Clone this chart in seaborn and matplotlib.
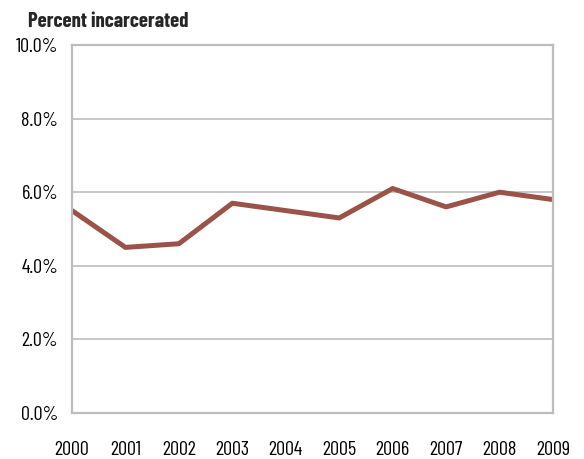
import matplotlib

matplotlib.use("Agg")
import matplotlib.pyplot as plt
import pandas as pd
import seaborn as sns
from matplotlib.ticker import FuncFormatter

years = [2000, 2001, 2002, 2003, 2004, 2005, 2006, 2007, 2008, 2009]
pct_incarcerated = [5.5, 4.5, 4.6, 5.7, 5.5, 5.3, 6.1, 5.6, 6.0, 5.8]
y_ticks = [0, 2, 4, 6, 8, 10]

sns.set_theme(style="white")
plt.rcParams["font.family"] = ["Barlow Condensed", "Archivo Narrow", "DejaVu Sans"]

df = pd.DataFrame({"year": years, "pct": pct_incarcerated})

fig = plt.figure(figsize=(5.84, 4.59), dpi=100)
ax = fig.add_axes([0.1233, 0.1002, 0.8236, 0.8018])

sns.lineplot(data=df, x="year", y="pct", color="#9B5349", linewidth=3.6, ax=ax)

ax.set_xlim(years[0], years[-1])
ax.set_ylim(0, 10)
ax.set_yticks(y_ticks)
ax.yaxis.set_major_formatter(FuncFormatter(lambda v, _: f"{v:.1f}%"))
ax.set_xticks(years)
ax.set_xticklabels([str(y) for y in years])
ax.grid(axis="y", color="#BDBDBD", linewidth=1.2)
ax.set_axisbelow(True)
for s in ax.spines.values():
    s.set_color("#BDBDBD")
    s.set_linewidth(1.6)
ax.tick_params(axis="both", length=0, labelsize=14.5, colors="black")
ax.tick_params(axis="x", pad=20)
ax.tick_params(axis="y", pad=10)
ax.set_xlabel("")
ax.set_ylabel("")

fig.text(0.048, 0.954, "Percent incarcerated", fontsize=15, fontweight="bold",
         ha="left", va="center")

fig.savefig("out.png", dpi=100)
